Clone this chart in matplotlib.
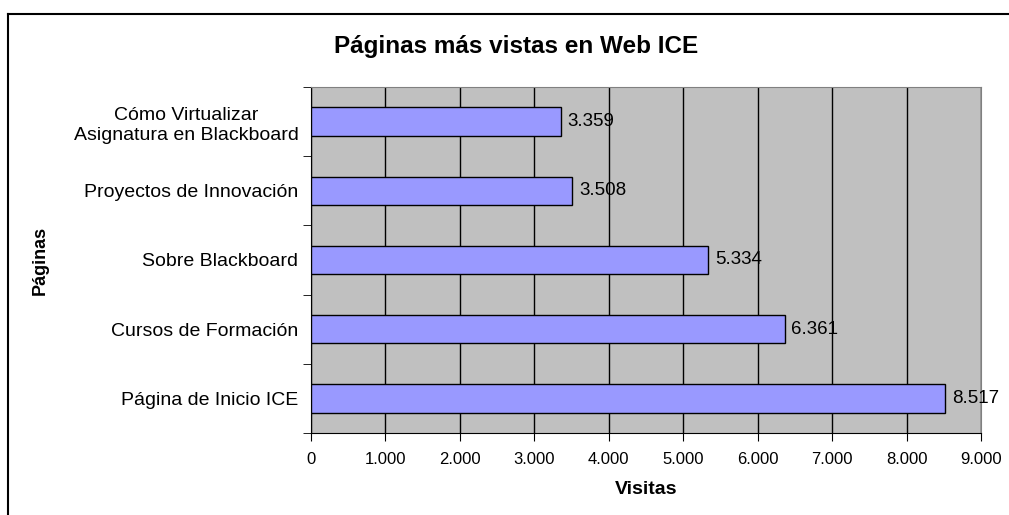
import matplotlib.pyplot as plt
from matplotlib.ticker import FuncFormatter

paginas = ["Página de Inicio ICE", "Cursos de Formación", "Sobre Blackboard",
           "Proyectos de Innovación", "Cómo Virtualizar\nAsignatura en Blackboard"]
visitas = [8517, 6361, 5334, 3508, 3359]

plt.rcParams['font.family'] = ['Liberation Sans', 'DejaVu Sans']


def miles(v, pos=None):
    return f"{int(v):,}".replace(",", ".")


fig = plt.figure(figsize=(10.09, 5.15), dpi=100)
ax = fig.add_axes([311 / 1009, 1 - 433 / 515, 670 / 1009, 346 / 515])
ax.set_facecolor('#C0C0C0')

y = range(len(paginas))
ax.barh(y, visitas, height=0.41, color='#9999FF', edgecolor='black', linewidth=1, zorder=3)
for i, v in zip(y, visitas):
    ax.text(v + 90, i, miles(v), va='center', ha='left', fontsize=13.5, zorder=4)

ax.set_xlim(0, 9000)
ax.set_ylim(-0.5, len(paginas) - 0.5)
ax.set_xticks(range(0, 9001, 1000))
ax.xaxis.set_major_formatter(FuncFormatter(miles))
ax.grid(axis='x', color='black', linewidth=1, zorder=1)

ax.set_yticks(list(y))
ax.set_yticklabels(paginas, fontsize=14, linespacing=1.3)
ax.set_yticks([i - 0.5 for i in range(len(paginas) + 1)], minor=True)
ax.tick_params(axis='y', which='major', length=0, pad=9)
ax.tick_params(axis='y', which='minor', length=6, direction='out', color='black')
ax.tick_params(axis='x', length=6, direction='out', labelsize=12, pad=8)
for lbl in ax.get_yticklabels():
    lbl.set_multialignment('center')

for s in ['top', 'right']:
    ax.spines[s].set_color('#808080')
for s in ['left', 'bottom']:
    ax.spines[s].set_color('black')

ax.set_xlabel("Visitas", fontsize=14, fontweight='bold', labelpad=10)
fig.text(40 / 1009, 1 - 260 / 515, "Páginas", rotation=90, fontsize=13,
         fontweight='bold', ha='center', va='center')
fig.text(516 / 1009, 1 - 46 / 515, "Páginas más vistas en Web ICE", fontsize=17.5,
         fontweight='bold', ha='center', va='center')

# marco del área del gráfico (recortado)
fig.add_artist(plt.Line2D([8 / 1009, 1], [1 - 14 / 515] * 2, color='black', linewidth=1.5))
fig.add_artist(plt.Line2D([8 / 1009] * 2, [0, 1 - 14 / 515], color='black', linewidth=1.5))

fig.savefig("out.png", dpi=100)
